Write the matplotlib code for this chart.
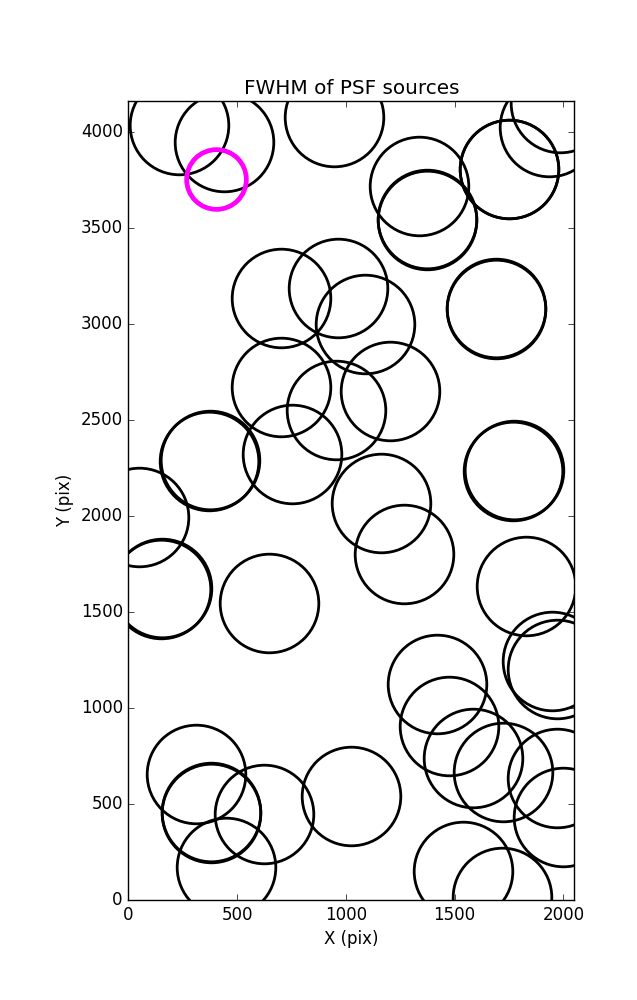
import numpy as np
import matplotlib
matplotlib.use('Agg')
import matplotlib.pyplot as plt

plt.style.use('classic')

# source positions (pix); a few sources are listed twice (near-duplicate detections)
x_src = [233, 440, 946, 1334, 1371, 1748, 1934, 1985,
         704, 964, 1086, 1688, 702, 953, 1201,
         373, 753, 1769, 49, 1160, 1268, 150, 647, 1826,
         1417, 1948, 1971, 1474, 1583, 1723, 1971, 1998,
         311, 378, 624, 1024, 451, 1537, 1716,
         376, 1772, 1374, 1691, 153, 1751, 381]
y_src = [4036, 3948, 4078, 3719, 3544, 3805, 4026, 4151,
         3135, 3188, 3000, 3078, 2672, 2552, 2651,
         2286, 2323, 2234, 1995, 2070, 1802, 1622, 1547, 1638,
         1125, 1245, 1201, 906, 742, 669, 638, 432,
         656, 453, 448, 544, 172, 151, 16,
         2290, 2238, 3548, 3082, 1626, 3809, 457]

# selected source
x_sel = [403]
y_sel = [3753]

fig = plt.figure(figsize=(6.37, 10), dpi=100, facecolor='white')
ax = fig.add_axes([0.2015, 0.1, 0.7, 0.7993])

ax.plot(x_src, y_src, 'o', mfc='none', mec='k', ms=71, mew=2)
ax.plot(x_sel, y_sel, 'o', mfc='none', mec='magenta', ms=43, mew=3.4)

ax.set_xlim(0, 2050)
ax.set_ylim(0, 4163)
ax.set_xlabel('X (pix)')
ax.set_ylabel('Y (pix)')
ax.set_title('FWHM of PSF sources')

plt.savefig('out.png', dpi=100, facecolor='white')
